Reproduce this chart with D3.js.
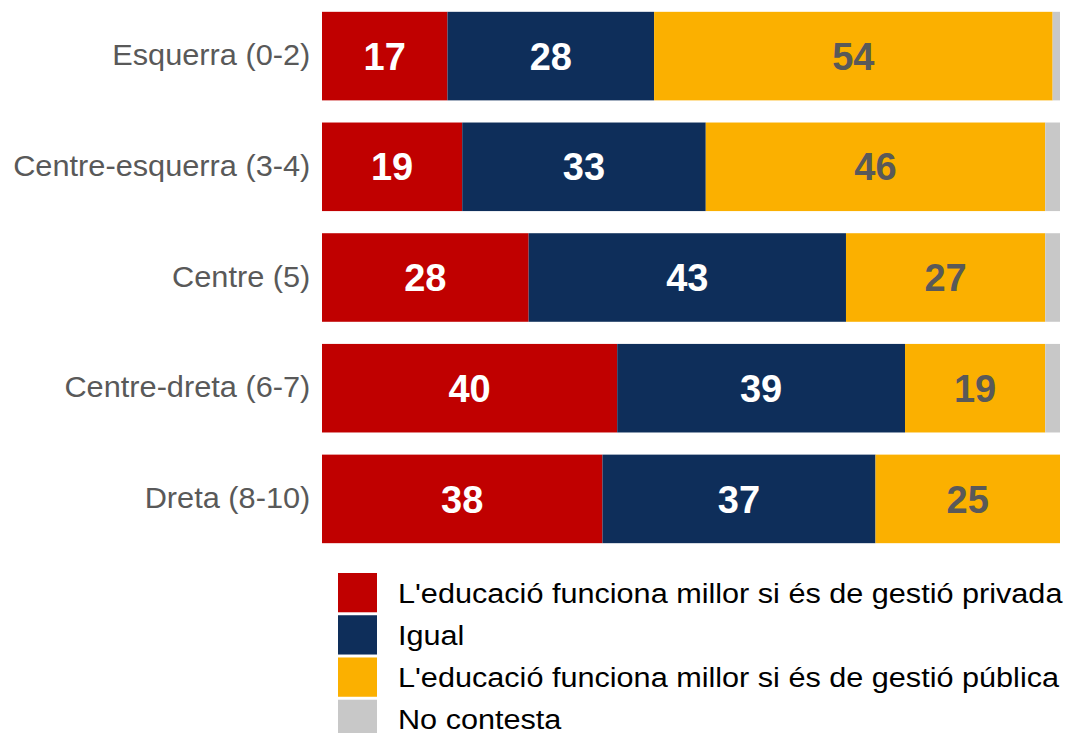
<!DOCTYPE html>
<html>
<head>
<meta charset="utf-8">
<script src="https://cdn.jsdelivr.net/npm/d3@7"></script>
<style>
  html, body { margin: 0; padding: 0; background: #fff; }
  svg { display: block; font-family: "Liberation Sans", Arial, sans-serif; }
</style>
</head>
<body>
<svg id="chart" width="1071" height="733"></svg>
<script>
const categories = ["Esquerra (0-2)", "Centre-esquerra (3-4)", "Centre (5)", "Centre-dreta (6-7)", "Dreta (8-10)"];
const seriesNames = [
  "L'educació funciona millor si és de gestió privada",
  "Igual",
  "L'educació funciona millor si és de gestió pública",
  "No contesta"
];
const privada = [17, 19, 28, 40, 38];
const igual = [28, 33, 43, 39, 37];
const publica = [54, 46, 27, 19, 25];
const noContesta = [1, 2, 2, 2, 0];
const colors = ["#C00000", "#0E2E5A", "#FBB000", "#C8C8C8"];
const labelColors = ["#FFFFFF", "#FFFFFF", "#595959", null];

const seriesValues = [privada, igual, publica, noContesta];
const rows = categories.map((c, i) => {
  const r = { cat: c };
  seriesNames.forEach((s, j) => r[s] = seriesValues[j][i]);
  return r;
});

const svg = d3.select("#chart");
const x = d3.scaleLinear().domain([0, 100]).range([322, 1060]);
const y = d3.scaleBand().domain(categories).range([0.75, 554.25])
  .paddingInner(0.2).paddingOuter(0.1);

const stacked = d3.stack().keys(seriesNames)(rows);

const g = svg.append("g");
stacked.forEach((layer, li) => {
  g.selectAll(null).data(layer).join("rect")
    .attr("x", d => x(d[0]))
    .attr("y", d => y(d.data.cat))
    .attr("width", d => x(d[1]) - x(d[0]))
    .attr("height", y.bandwidth())
    .attr("fill", colors[li]);
  if (labelColors[li]) {
    g.selectAll(null).data(layer).join("text")
      .attr("x", d => (x(d[0]) + x(d[1])) / 2)
      .attr("y", d => y(d.data.cat) + y.bandwidth() / 2)
      .attr("dy", "0.36em")
      .attr("text-anchor", "middle")
      .attr("font-size", 38)
      .attr("font-weight", "bold")
      .attr("fill", labelColors[li])
      .text(d => d[1] - d[0]);
  }
});

// Y axis labels
const yAxis = d3.axisLeft(y).tickSize(0).tickPadding(11);
const ya = svg.append("g").attr("transform", "translate(322,0)").call(yAxis);
ya.select(".domain").remove();
ya.selectAll("text")
  .attr("font-size", 29).attr("fill", "#595959")
  .attr("font-family", "'Liberation Sans', Arial, sans-serif")
  .attr("transform", "scale(1.06,1)");

// Legend
const leg = d3.scaleBand().domain(seriesNames).range([573, 739]).paddingInner(0.07);
const lg = svg.append("g");
lg.selectAll("rect").data(seriesNames).join("rect")
  .attr("x", 338).attr("y", d => leg(d))
  .attr("width", 39).attr("height", leg.bandwidth())
  .attr("fill", (d, i) => colors[i]);
lg.selectAll("g.item").data(seriesNames).join("g")
  .attr("class", "item")
  .attr("transform", d => `translate(398,${leg(d) + leg.bandwidth() / 2})`)
  .append("text")
  .attr("dy", "0.36em")
  .attr("font-size", 28).attr("fill", "#000")
  .attr("transform", "scale(1.094,1)")
  .text(d => d);
</script>
</body>
</html>
